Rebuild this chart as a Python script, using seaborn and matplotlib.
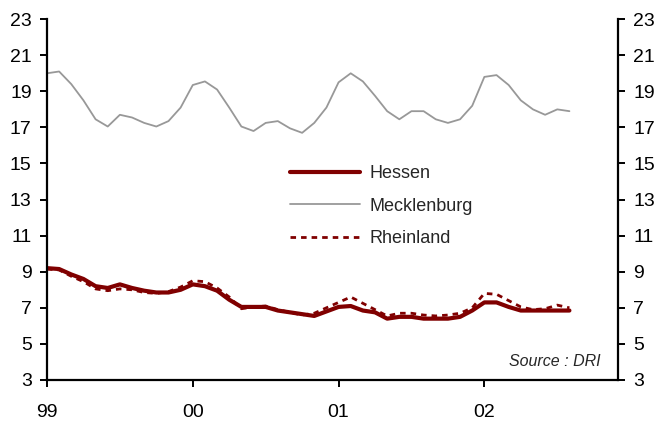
import numpy as np
import pandas as pd
import matplotlib
matplotlib.use("Agg")
import matplotlib.pyplot as plt
import seaborn as sns

# Monthly unemployment rates (%), January 1999 to August 2002
hessen = [
    9.2, 9.15, 8.85, 8.6, 8.2, 8.1, 8.3, 8.1, 7.95, 7.85, 7.85, 8.0,
    8.3, 8.2, 7.95, 7.45, 7.05, 7.05, 7.05, 6.85, 6.75, 6.65, 6.55, 6.8,
    7.05, 7.1, 6.85, 6.75, 6.4, 6.5, 6.5, 6.4, 6.4, 6.4, 6.5, 6.85,
    7.3, 7.3, 7.05, 6.85, 6.85, 6.85, 6.85, 6.85,
]
mecklenburg = [
    20.0, 20.1, 19.4, 18.5, 17.45, 17.05, 17.7, 17.55, 17.25, 17.05, 17.35, 18.1,
    19.35, 19.55, 19.1, 18.1, 17.05, 16.8, 17.25, 17.35, 16.95, 16.7, 17.25, 18.1,
    19.5, 20.0, 19.55, 18.75, 17.9, 17.45, 17.9, 17.9, 17.45, 17.25, 17.45, 18.2,
    19.8, 19.9, 19.35, 18.5, 18.0, 17.7, 18.0, 17.9,
]
rheinland = [
    9.15, 9.1, 8.75, 8.45, 8.05, 7.95, 8.05, 8.0, 7.85, 7.8, 7.9, 8.15,
    8.5, 8.45, 8.1, 7.6, 6.95, 7.05, 7.1, 6.9, 6.75, 6.6, 6.7, 7.0,
    7.3, 7.6, 7.25, 6.9, 6.55, 6.7, 6.7, 6.6, 6.55, 6.6, 6.7, 7.0,
    7.8, 7.75, 7.4, 7.05, 6.9, 6.95, 7.15, 7.0,
]
year_labels = ["99", "00", "01", "02"]
y_ticks = list(range(3, 24, 2))

month = np.arange(len(hessen))
df = pd.DataFrame({"month": month, "Hessen": hessen,
                   "Mecklenburg": mecklenburg, "Rheinland": rheinland})

sns.set_style("white")
plt.rcParams["font.family"] = ["Liberation Sans", "DejaVu Sans"]

fig = plt.figure(figsize=(6.59, 4.26), dpi=100)
ax = fig.add_axes([0.0713, 0.108, 0.8665, 0.847])

dark_red = "#800000"
sns.lineplot(data=df, x="month", y="Hessen", ax=ax, color=dark_red,
             linewidth=3.0, label="Hessen")
sns.lineplot(data=df, x="month", y="Mecklenburg", ax=ax, color="#989898",
             linewidth=1.3, label="Mecklenburg")
sns.lineplot(data=df, x="month", y="Rheinland", ax=ax, color=dark_red,
             linewidth=2.0, label="Rheinland")
ax.lines[2].set_dashes((2.0, 1.8))

ax.set_xlim(0, 47)
ax.set_ylim(3, 23)
ax.set_xticks([0, 12, 24, 36])
ax.set_xticklabels(year_labels)
ax.set_yticks(y_ticks)
ax.set_xlabel("")
ax.set_ylabel("")

for side in ["left", "right", "bottom"]:
    ax.spines[side].set_visible(True)
    ax.spines[side].set_color("black")
    ax.spines[side].set_linewidth(1.6)
ax.spines["top"].set_visible(False)

ax.tick_params(axis="y", which="both", left=True, right=True,
               labelleft=True, labelright=True, direction="out",
               length=5, width=1.4, pad=6, labelsize=14, colors="black")
ax.tick_params(axis="x", bottom=True, direction="out", length=5, width=1.4,
               pad=12, labelsize=14, colors="black")

leg = ax.legend(loc="center", bbox_to_anchor=(0.585, 0.482), frameon=False,
                fontsize=13, handlelength=3.9, handletextpad=0.5,
                labelspacing=0.85)

ax.text(0.97, 0.05, "Source : DRI", transform=ax.transAxes, ha="right",
        va="center", fontsize=11.5, style="italic")

fig.savefig("out.png", dpi=100)
